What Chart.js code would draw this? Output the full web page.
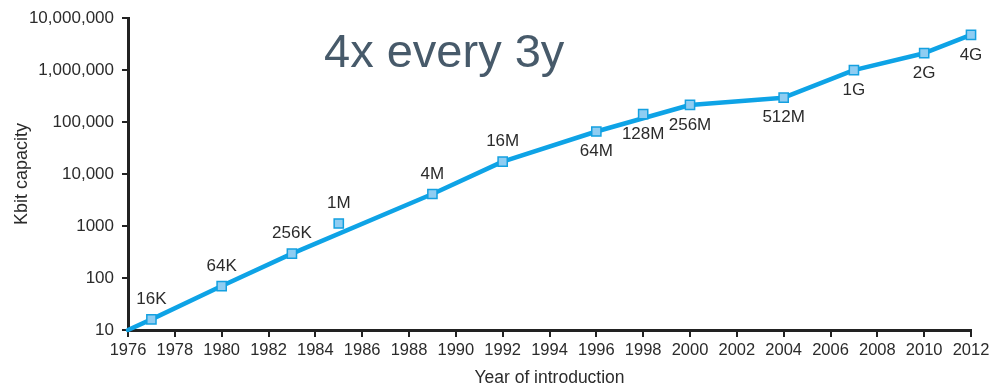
<!DOCTYPE html>
<html>
<head>
<meta charset="utf-8">
<title>DRAM capacity by year of introduction</title>
<script src="https://cdn.jsdelivr.net/npm/chart.js@4/dist/chart.umd.min.js"></script>
<style>
  html, body { margin: 0; padding: 0; background: #ffffff; }
  #wrap { width: 999px; height: 387px; }
</style>
</head>
<body>
<div id="wrap"><canvas id="chart" width="999" height="387"></canvas></div>
<script>
// DRAM generations: year of introduction and capacity in Kbit
const years = [1977, 1980, 1983, 1985, 1989, 1992, 1996, 1998, 2000, 2004, 2007, 2010, 2012];
const chipNames = ['16K', '64K', '256K', '1M', '4M', '16M', '64M', '128M', '256M', '512M', '1G', '2G', '4G'];
const kbitCapacity = [16, 70, 295, 1120, 4140, 17400, 66000, 142000, 214000, 295000, 1000000, 2120000, 4780000];

// Trend line through the generations
const trendYears = [1976, 1977, 1980, 1983, 1989, 1992, 1996, 2000, 2004, 2007, 2010, 2012];
const trendKbit = [10, 16, 70, 295, 4140, 17400, 66000, 214000, 295000, 1000000, 2120000, 4780000];

// Axis ticks
const xTickYears = [1976, 1978, 1980, 1982, 1984, 1986, 1988, 1990, 1992, 1994, 1996, 1998, 2000, 2002, 2004, 2006, 2008, 2010, 2012];
const yTickValues = [10, 100, 1000, 10000, 100000, 1000000, 10000000];
const yTickLabels = ['10', '100', '1000', '10,000', '100,000', '1,000,000', '10,000,000'];

const headline = '4x every 3y';
const xTitle = 'Year of introduction';
const yTitle = 'Kbit capacity';

const FONT = '"Liberation Sans", Arial, Helvetica, sans-serif';
const INK = '#2b2b2b';
const AXIS = '#222222';
const BLUE = '#0ea3e6';

// Generations whose name sits under the marker
const namesBelow = new Set(['64M', '128M', '256M', '512M', '1G', '2G', '4G']);

const annotations = {
  id: 'annotations',
  beforeDraw(chart) {
    const ctx = chart.ctx;
    ctx.save();
    ctx.fillStyle = '#ffffff';
    ctx.fillRect(0, 0, chart.width, chart.height);
    ctx.restore();
  },
  afterDatasetsDraw(chart) {
    const ctx = chart.ctx;
    const xs = chart.scales.x, ys = chart.scales.y;
    ctx.save();
    // generation names next to each marker
    ctx.font = '17px ' + FONT;
    ctx.fillStyle = INK;
    ctx.textAlign = 'center';
    ctx.textBaseline = 'middle';
    chipNames.forEach((name, i) => {
      const px = xs.getPixelForValue(years[i]);
      const py = ys.getPixelForValue(kbitCapacity[i]);
      const dy = namesBelow.has(name) ? 20 : -20;
      ctx.fillText(name, px, py + dy);
    });
    // headline
    ctx.font = '47px ' + FONT;
    ctx.fillStyle = '#475a6a';
    ctx.textAlign = 'left';
    ctx.textBaseline = 'alphabetic';
    ctx.fillText(headline, 324, 67);
    ctx.restore();
  }
};

new Chart(document.getElementById('chart'), {
  type: 'line',
  data: {
    datasets: [
      {
        label: 'Generations',
        data: years.map((y, i) => ({ x: y, y: kbitCapacity[i] })),
        showLine: false,
        pointStyle: 'rect',
        pointRadius: 6.5,
        pointBackgroundColor: '#8fcdf2',
        pointBorderColor: '#14a0e0',
        pointBorderWidth: 1.5,
        order: 0,
        clip: false
      },
      {
        label: 'Trend',
        data: trendYears.map((y, i) => ({ x: y, y: trendKbit[i] })),
        borderColor: BLUE,
        borderWidth: 4.5,
        pointRadius: 0,
        tension: 0,
        borderCapStyle: 'round',
        borderJoinStyle: 'round',
        order: 1,
        clip: false
      }
    ]
  },
  options: {
    responsive: false,
    animation: false,
    events: [],
    layout: { padding: { left: 0, right: 28, top: 15, bottom: 0 } },
    plugins: {
      legend: { display: false },
      tooltip: { enabled: false },
      title: { display: false }
    },
    scales: {
      x: {
        type: 'linear',
        min: 1976,
        max: 2012,
        afterBuildTicks(scale) {
          scale.ticks = xTickYears.map(v => ({ value: v }));
        },
        afterFit(scale) { scale.height = 57; },
        ticks: {
          callback: (v) => String(v),
          color: INK,
          font: { family: FONT, size: 16.5 },
          padding: 4,
          maxRotation: 0,
          autoSkip: false
        },
        grid: {
          drawOnChartArea: false,
          drawTicks: true,
          tickLength: 7,
          lineWidth: 2,
          color: AXIS
        },
        border: { display: true, width: 3, color: AXIS },
        title: {
          display: true,
          text: xTitle,
          color: INK,
          font: { family: FONT, size: 17.5, lineHeight: 1 },
          padding: { top: 0, bottom: 0 }
        }
      },
      y: {
        type: 'logarithmic',
        min: 10,
        max: 10000000,
        afterBuildTicks(scale) {
          scale.ticks = yTickValues.map(v => ({ value: v }));
        },
        afterFit(scale) { scale.width = 128; },
        ticks: {
          callback: (v, i) => yTickLabels[i],
          color: INK,
          font: { family: FONT, size: 17 },
          padding: 8,
          autoSkip: false
        },
        grid: {
          drawOnChartArea: false,
          drawTicks: true,
          tickLength: 6,
          lineWidth: 2,
          color: AXIS
        },
        border: { display: true, width: 3, color: AXIS },
        title: {
          display: true,
          text: yTitle,
          color: INK,
          font: { family: FONT, size: 18, lineHeight: 1 },
          padding: { top: 13, bottom: 0 }
        }
      }
    }
  },
  plugins: [annotations]
});
</script>
</body>
</html>
